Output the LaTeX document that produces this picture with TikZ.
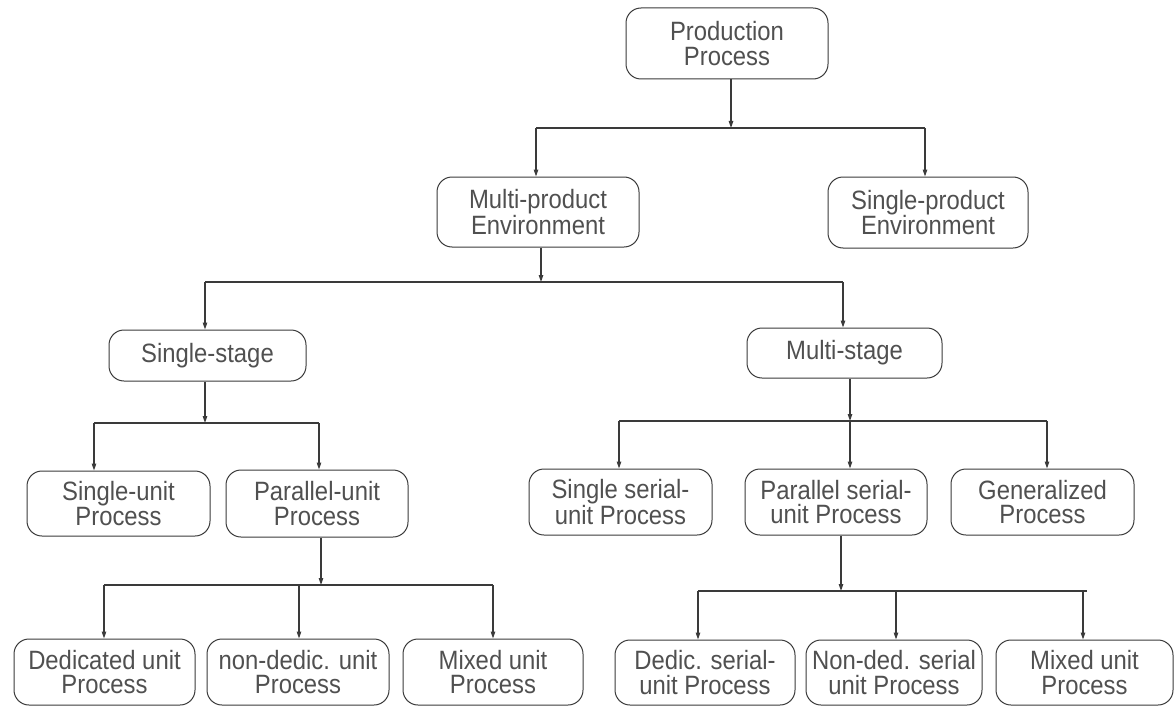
\documentclass[tikz,border=0pt]{standalone}
\usepackage{fontspec}
\setmainfont{Liberation Sans}[FakeStretch=0.9]
\usetikzlibrary{arrows.meta}
\definecolor{lc}{HTML}{3A3A3A}
\definecolor{tc}{HTML}{505050}
\begin{document}
\begin{tikzpicture}[x=1pt,y=-1pt,
  box/.style={draw=lc, line width=1pt, rounded corners=15pt, align=center, inner sep=0pt, text=tc, font=\fontsize{26.5}{24.5}\selectfont},
  arr/.style={draw=lc, line width=1.1pt, -{Triangle[length=7pt,width=4.5pt]}},
  link/.style={draw=lc, line width=1.1pt}]
\useasboundingbox (0,0) rectangle (1174,706);
% nodes
\node[box, minimum width=202pt, minimum height=71pt] (prod) at (727,43.5) {Production\\Process};
\node[box, minimum width=202pt, minimum height=70pt] (mp) at (538,212) {Multi-product\\Environment};
\node[box, minimum width=200pt, minimum height=71pt] (sp) at (928,212.5) {Single-product\\Environment};
\node[box, minimum width=197pt, minimum height=51pt] (ss) at (207.5,355.5) {Single-stage};
\node[box, minimum width=195pt, minimum height=50pt] (ms) at (844.5,353) {Multi-stage};
\node[box, minimum width=183pt, minimum height=65pt] (su) at (118.5,503.5) {Single-unit\\Process};
\node[box, minimum width=182pt, minimum height=67pt] (pu) at (317,503.5) {Parallel-unit\\Process};
\node[box, minimum width=183pt, minimum height=66pt] (ssu) at (620.5,502) {Single serial-\\unit Process};
\node[box, minimum width=182pt, minimum height=66pt] (psu) at (836,502) {Parallel serial-\\unit Process};
\node[box, minimum width=183pt, minimum height=66pt] (gen) at (1042.5,502) {Generalized\\Process};
\node[box, minimum width=181pt, minimum height=66pt] (ded) at (104.5,672) {Dedicated unit\\Process};
\node[box, minimum width=182pt, minimum height=66pt] (nd) at (298,672) {non-dedic. unit\\Process};
\node[box, minimum width=180pt, minimum height=66pt] (mix1) at (493,672) {Mixed unit\\Process};
\node[box, minimum width=180pt, minimum height=65pt] (dsu) at (705,672.5) {Dedic. serial-\\unit Process};
\node[box, minimum width=176pt, minimum height=65pt] (nsu) at (894,672.5) {Non-ded. serial\\unit Process};
\node[box, minimum width=177pt, minimum height=65pt] (mix2) at (1084.5,672.5) {Mixed unit\\Process};
% level 1
\coordinate (j1) at (731,128);
\coordinate (j1a) at (536,128);
\coordinate (j1b) at (925,128);
\draw[arr] (prod.south -| j1) -- (j1);
\draw[link] (j1a) -- (j1b);
\draw[arr] (j1a) -- (j1a |- mp.north);
\draw[arr] (j1b) -- (j1b |- sp.north);
% level 2
\coordinate (j2) at (541,282);
\coordinate (j2a) at (205,282);
\coordinate (j2b) at (843,282);
\draw[arr] (mp.south -| j2) -- (j2);
\draw[link] (j2a) -- (j2b);
\draw[arr] (j2a) -- (j2a |- ss.north);
\draw[arr] (j2b) -- (j2b |- ms.north);
% level 3 left
\coordinate (j3) at (205,423);
\coordinate (j3a) at (94,423);
\coordinate (j3b) at (319,423);
\draw[arr] (ss.south -| j3) -- (j3);
\draw[link] (j3a) -- (j3b);
\draw[arr] (j3a) -- (j3a |- su.north);
\draw[arr] (j3b) -- (j3b |- pu.north);
% level 3 right
\coordinate (k3) at (850,421);
\coordinate (k3a) at (619,421);
\coordinate (k3b) at (1047,421);
\draw[arr] (ms.south -| k3) -- (k3);
\draw[link] (k3a) -- (k3b);
\draw[arr] (k3a) -- (k3a |- ssu.north);
\draw[arr] (k3) -- (k3 |- psu.north);
\draw[arr] (k3b) -- (k3b |- gen.north);
% level 4 left
\coordinate (j4) at (321,585);
\coordinate (j4a) at (104,585);
\coordinate (j4m) at (299,585);
\coordinate (j4b) at (493,585);
\draw[arr] (pu.south -| j4) -- (j4);
\draw[link] (j4a) -- (j4b);
\draw[arr] (j4a) -- (j4a |- ded.north);
\draw[arr] (j4m) -- (j4m |- nd.north);
\draw[arr] (j4b) -- (j4b |- mix1.north);
% level 4 right
\coordinate (k4) at (841,591);
\coordinate (k4a) at (698,591);
\coordinate (k4m) at (896,591);
\coordinate (k4b) at (1083,591);
\coordinate (k4e) at (1087,591);
\draw[arr] (psu.south -| k4) -- (k4);
\draw[link] (k4a) -- (k4e);
\draw[arr] (k4a) -- (k4a |- dsu.north);
\draw[arr] (k4m) -- (k4m |- nsu.north);
\draw[arr] (k4b) -- (k4b |- mix2.north);
\end{tikzpicture}
\end{document}
